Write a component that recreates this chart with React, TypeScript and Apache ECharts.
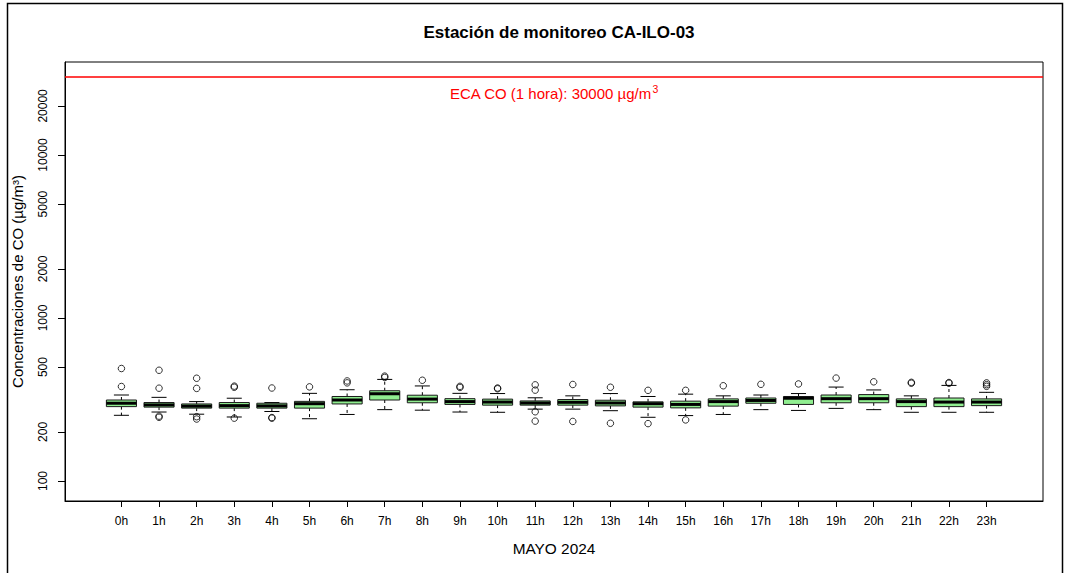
import React, { useEffect, useRef } from "react";
import * as echarts from "echarts";

const hours = ["0h","1h","2h","3h","4h","5h","6h","7h","8h","9h","10h","11h","12h","13h","14h","15h","16h","17h","18h","19h","20h","21h","22h","23h"];
const lows =    [253, 265, 257, 247, 267, 241, 256, 274, 272, 265, 264, 276, 276, 270, 246, 252, 256, 274, 271, 279, 274, 264, 264, 264];
const q1s =     [286, 284, 280, 280, 280, 280, 297, 314, 302, 295, 292, 292, 292, 289, 284, 281, 288, 300, 295, 302, 302, 286, 286, 290];
const medians = [300, 293, 288, 290, 289, 298, 314, 343, 318, 307, 305, 301, 304, 301, 298, 295, 307, 312, 322, 320, 320, 307, 305, 305];
const q3s =     [314, 303, 297, 303, 300, 308, 330, 358, 336, 320, 318, 310, 316, 313, 306, 309, 319, 323, 330, 337, 339, 319, 323, 319];
const highs =   [337, 326, 307, 322, 303, 345, 363, 420, 383, 345, 344, 324, 333, 344, 330, 341, 333, 337, 344, 377, 362, 333, 386, 350];
const outliers: number[][] = [
  [490, 380], [478, 371, 250, 246], [427, 370, 248, 240], [382, 376, 243], [372, 243, 245], [378],
  [411, 400], [440, 432], [415], [381, 375], [372, 368], [389, 361, 266, 233], [391, 232], [376, 226],
  [360, 225], [360, 237], [384], [392], [394], [428], [406], [403, 398], [402, 398], [400, 390, 381],
];
const yTicks = [100, 200, 500, 1000, 2000, 5000, 10000, 20000];
const ecaLimit = 30000;
const yMin = 75.4;
const yMax = 37200;

const FONT = "Liberation Sans, Arial, Helvetica, sans-serif";

export default function App() {
  const ref = useRef<HTMLDivElement>(null);
  useEffect(() => {
    document.body.style.margin = "0";
    if (!ref.current) return;
    const chart = echarts.init(ref.current, null, { renderer: "svg" });
    const cats = ["", ...hours, ""];
    const boxData = hours.map((_, i) => [i + 1, lows[i], q1s[i], medians[i], q3s[i], highs[i]]);
    const outData: number[][] = [];
    outliers.forEach((arr, i) => arr.forEach((v) => outData.push([i + 1, v])));

    const option: any = {
      animation: false,
      backgroundColor: "#fff",
      title: {
        text: "Estación de monitoreo CA-ILO-03",
        left: 554, top: 19, textAlign: "center",
        textStyle: { fontSize: 17, fontWeight: "bold", fontFamily: FONT, color: "#000" },
      },
      grid: {
        left: 65, top: 62, right: 22, bottom: 72,
        outerBoundsMode: "none",
        show: true, borderColor: "#000", borderWidth: 1,
      },
      xAxis: {
        type: "category", data: cats, boundaryGap: true,
        name: "MAYO 2024", nameLocation: "middle", nameGap: 40,
        nameTextStyle: { fontSize: 15.4, fontFamily: FONT, color: "#000" },
        axisLine: { show: true, lineStyle: { color: "#000" } },
        axisTick: { show: true, alignWithLabel: true, length: 6, interval: (_i: number, v: string) => v !== "", lineStyle: { color: "#000" } },
        axisLabel: { interval: 0, fontSize: 12, fontFamily: FONT, color: "#000", margin: 14 },
        splitLine: { show: false },
      },
      yAxis: {
        type: "log", logBase: 10, min: yMin, max: yMax,
        name: "Concentraciones de CO (µg/m³)", nameLocation: "middle", nameGap: 40, nameRotate: 90,
        nameTextStyle: { fontSize: 15, fontFamily: FONT, color: "#000" },
        axisLine: { show: true, lineStyle: { color: "#000" } },
        axisTick: { show: true, length: 7, customValues: yTicks, lineStyle: { color: "#000" } },
        axisLabel: { customValues: yTicks, rotate: 90, fontSize: 12, fontFamily: FONT, color: "#000", margin: 16, formatter: (v: number) => String(Math.round(v)) },
        splitLine: { show: false },
        minorTick: { show: false },
      },
      graphic: [
        { type: "rect", shape: { x: 7.5, y: 3.5, width: 1055, height: 620 }, style: { fill: "none", stroke: "#000", lineWidth: 1.5 }, silent: true },
      ],
      series: [
        {
          type: "custom", data: boxData, encode: { x: 0, y: [1, 2, 3, 4, 5] },
          renderItem: (params: any, api: any) => {
            const idx = api.value(0);
            const lo = api.coord([idx, api.value(1)]);
            const q1 = api.coord([idx, api.value(2)]);
            const med = api.coord([idx, api.value(3)]);
            const q3 = api.coord([idx, api.value(4)]);
            const hi = api.coord([idx, api.value(5)]);
            const band = params.coordSys.width / cats.length;
            const bw = band * 0.8;
            const cw = bw / 2;
            const x = med[0];
            return {
              type: "group",
              children: [
                { type: "line", shape: { x1: x, y1: q3[1], x2: x, y2: hi[1] }, style: { stroke: "#000", lineWidth: 1, lineDash: [3, 3] } },
                { type: "line", shape: { x1: x, y1: q1[1], x2: x, y2: lo[1] }, style: { stroke: "#000", lineWidth: 1, lineDash: [3, 3] } },
                { type: "line", shape: { x1: x - cw / 2, y1: hi[1], x2: x + cw / 2, y2: hi[1] }, style: { stroke: "#000", lineWidth: 1 } },
                { type: "line", shape: { x1: x - cw / 2, y1: lo[1], x2: x + cw / 2, y2: lo[1] }, style: { stroke: "#000", lineWidth: 1 } },
                { type: "rect", shape: { x: x - bw / 2, y: q3[1], width: bw, height: q1[1] - q3[1] }, style: { fill: "#90EE90", stroke: "#1a1a1a", lineWidth: 1 } },
                { type: "line", shape: { x1: x - bw / 2, y1: med[1], x2: x + bw / 2, y2: med[1] }, style: { stroke: "#000", lineWidth: 3 } },
              ],
            };
          },
          markLine: {
            silent: true, symbol: "none",
            lineStyle: { color: "#ff0000", width: 1.5, type: "solid" },
            label: {
              show: true, position: "insideMiddleBottom", distance: 6,
              formatter: "{a|ECA CO (1 hora): 30000 µg/m}{s|3}",
              rich: {
                a: { fontSize: 15, fontFamily: FONT, color: "#ff0000" },
                s: { fontSize: 10.5, fontFamily: FONT, color: "#ff0000", padding: [0, 0, 10, 1] },
              },
            },
            data: [{ yAxis: ecaLimit }],
          },
          z: 2,
        },
        {
          type: "scatter", data: outData, symbol: "circle", symbolSize: 6.5,
          itemStyle: { color: "transparent", borderColor: "#000", borderWidth: 1 }, z: 3,
        },
      ],
    };
    chart.setOption(option);
    return () => chart.dispose();
  }, []);
  return <div ref={ref} style={{ position: "absolute", left: 0, top: 0, width: 1065, height: 573 }} />;
}
